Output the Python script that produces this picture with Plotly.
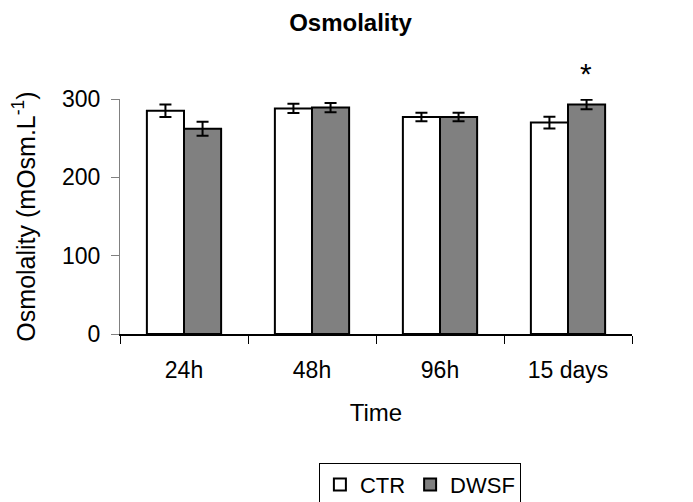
import plotly.graph_objects as go

categories = ["24h", "48h", "96h", "15 days"]
ctr_values = [285, 288, 277, 270]
ctr_errors = [8, 6, 5.5, 7.5]
dwsf_values = [262, 289, 277, 293]
dwsf_errors = [9, 6, 5.5, 6]
y_ticks = [0, 100, 200, 300]
significant = ["15 days"]

FONT = "Liberation Sans, Arial, sans-serif"

fig = go.Figure()
fig.add_trace(go.Bar(
    x=categories, y=ctr_values, name="CTR",
    marker=dict(color="white", line=dict(color="black", width=2)),
    error_y=dict(type="data", array=ctr_errors, color="black", thickness=2, width=6),
))
fig.add_trace(go.Bar(
    x=categories, y=dwsf_values, name="DWSF",
    marker=dict(color="#808080", line=dict(color="black", width=2)),
    error_y=dict(type="data", array=dwsf_errors, color="black", thickness=2, width=6),
))

for cat in significant:
    i = categories.index(cat)
    fig.add_annotation(x=cat, y=dwsf_values[i] + dwsf_errors[i], yanchor="bottom",
                       text="*", showarrow=False, xshift=18, yshift=8,
                       font=dict(size=30, color="black", family=FONT))

fig.update_layout(
    width=685, height=494,
    paper_bgcolor="white", plot_bgcolor="white",
    margin=dict(l=112, r=61, t=91, b=168, autoexpand=False),
    barmode="group", bargap=0.42, bargroupgap=0,
    font=dict(family=FONT, size=23, color="black"),
    title=dict(text="<b>Osmolality</b>", x=0.5, xanchor="center", y=0.97, yanchor="middle",
               font=dict(size=24, family=FONT, color="black")),
    showlegend=True,
    legend=dict(orientation="h", x=0.783, xanchor="right", y=-0.548, yanchor="top",
                bordercolor="black", borderwidth=1, font=dict(size=22, family=FONT),
                itemwidth=30, tracegroupgap=0),
    xaxis=dict(title=dict(text="Time", standoff=22, font=dict(size=24, family=FONT, color="black")),
               showline=True, linecolor="black", linewidth=1.5,
               ticks="outside", tickson="boundaries", ticklen=8, tickcolor="black",
               ticklabelstandoff=15, showgrid=False, zeroline=False),
    yaxis=dict(title=dict(text="Osmolality (mOsm.L<sup>-1</sup>)", standoff=22,
                          font=dict(size=25, family=FONT, color="black")),
               range=[0, 300], tickvals=y_ticks, showline=True, linecolor="#808080", linewidth=1,
               ticks="outside", ticklen=8, tickcolor="#808080", ticklabelstandoff=6,
               showgrid=False, zeroline=False),
)

fig.write_html("out.html")
